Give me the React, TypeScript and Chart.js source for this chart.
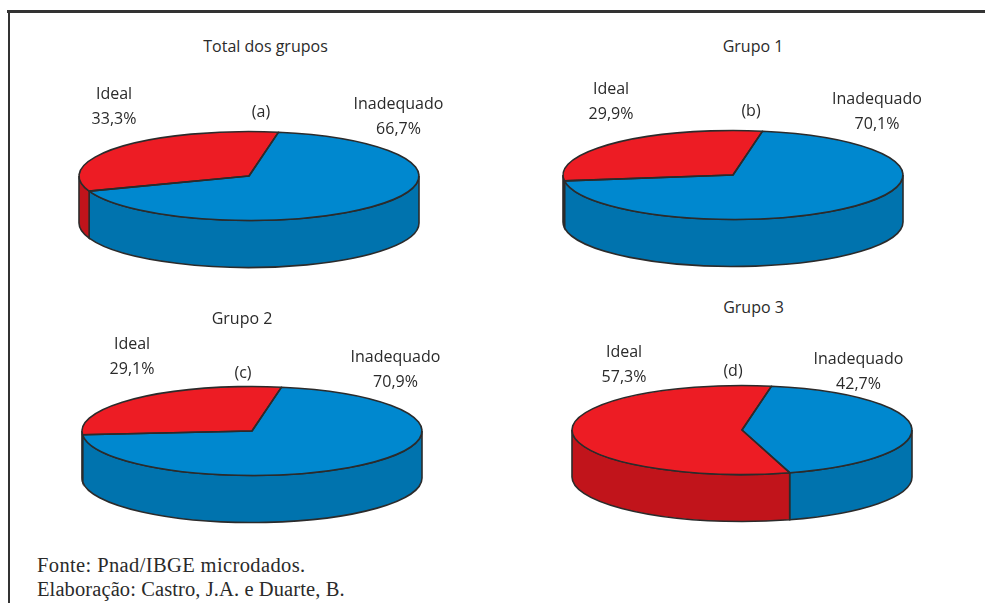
import React, { useEffect, useRef } from "react";
import { Chart, registerables } from "chart.js";

Chart.register(...registerables);

const categories = ["Inadequado", "Ideal"];
const valuesTotal = [66.7, 33.3];
const valuesGrupo1 = [70.1, 29.9];
const valuesGrupo2 = [70.9, 29.1];
const valuesGrupo3 = [42.7, 57.3];
const sourceLines = ["Fonte: Pnad/IBGE microdados.", "Elaboração: Castro, J.A. e Duarte, B."];

const TOP = ["#0088CF", "#ED1C24"];
const WALL = ["#0073AE", "#C1141B"];
const LINE = "#2B2B2B";
const SANS = '"Open Sans", sans-serif';
const SERIF = '"Liberation Serif", serif';
const RX = 170;
const RY = 44.5;
const DEPTH = 47;
const W = 400;
const H = 210;

const pie3d = {
  id: "pie3d",
  beforeDatasetsDraw(chart: any) {
    const ctx = chart.ctx;
    const meta = chart.getDatasetMeta(0);
    meta.data.forEach((arc: any, i: number) => {
      const { x, y, startAngle, endAngle } = arc;
      for (let k = -1; k <= 1; k++) {
        const lo = Math.max(startAngle, 2 * Math.PI * k);
        const hi = Math.min(endAngle, Math.PI + 2 * Math.PI * k);
        if (hi <= lo) continue;
        ctx.save();
        ctx.beginPath();
        ctx.ellipse(x, y, RX, RY, 0, lo, hi);
        ctx.ellipse(x, y + DEPTH, RX, RY, 0, hi, lo, true);
        ctx.closePath();
        ctx.fillStyle = WALL[i];
        ctx.fill();
        ctx.lineWidth = 1.6;
        ctx.strokeStyle = LINE;
        ctx.stroke();
        ctx.restore();
      }
    });
  },
  beforeDatasetDraw(chart: any) {
    const ctx = chart.ctx;
    const { x, y } = chart.getDatasetMeta(0).data[0];
    ctx.save();
    ctx.translate(x, y);
    ctx.scale(1, RY / RX);
    ctx.translate(-x, -y);
  },
  afterDatasetDraw(chart: any) {
    const ctx = chart.ctx;
    ctx.restore();
    chart.getDatasetMeta(0).data.forEach((arc: any) => {
      const { x, y, startAngle, endAngle } = arc;
      ctx.save();
      ctx.beginPath();
      ctx.moveTo(x, y);
      ctx.ellipse(x, y, RX, RY, 0, startAngle, endAngle);
      ctx.closePath();
      ctx.lineWidth = 1.6;
      ctx.lineJoin = "round";
      ctx.strokeStyle = LINE;
      ctx.stroke();
      ctx.restore();
    });
  },
};

function Pie({ values, cx, cy }: { values: number[]; cx: number; cy: number }) {
  const ref = useRef<HTMLCanvasElement>(null);
  useEffect(() => {
    const chart = new Chart(ref.current as HTMLCanvasElement, {
      type: "pie",
      data: {
        labels: categories,
        datasets: [{ data: values, backgroundColor: TOP, borderWidth: 0, clip: false } as any],
      },
      options: {
        animation: false,
        responsive: false,
        rotation: 10,
        radius: RX,
        layout: { padding: 0 },
        plugins: { legend: { display: false }, tooltip: { enabled: false } },
      } as any,
      plugins: [pie3d],
    });
    return () => chart.destroy();
  }, []);
  return (
    <canvas
      ref={ref}
      width={W}
      height={H}
      style={{ position: "absolute", left: cx - W / 2, top: cy - H / 2, width: W, height: H }}
    />
  );
}

function T({ x, y, children, font = SANS, size = 16, align = "center", spacing = 0 }: any) {
  return (
    <div
      style={{
        position: "absolute",
        left: x,
        top: y,
        transform: align === "center" ? "translateX(-50%)" : undefined,
        whiteSpace: "nowrap",
        fontFamily: font,
        fontSize: size,
        letterSpacing: spacing,
        lineHeight: "20px",
        color: "#2A2A2A",
      }}
    >
      {children}
    </div>
  );
}

const pct = (v: number) => v.toFixed(1).replace(".", ",") + "%";

const panels = [
  { values: valuesTotal, cx: 248.5, cy: 175.5, title: "Total dos grupos", tx: 265.5, ty: 36, tag: "(a)", gx: 261, gy: 101, ix: 114, iy: 83, nx: 398.5, ny: 93 },
  { values: valuesGrupo1, cx: 733, cy: 174.5, title: "Grupo 1", tx: 753, ty: 36, tag: "(b)", gx: 751, gy: 100, ix: 611, iy: 77.5, nx: 877, ny: 87.5 },
  { values: valuesGrupo2, cx: 252, cy: 431, title: "Grupo 2", tx: 242, ty: 308, tag: "(c)", gx: 243, gy: 362, ix: 132, iy: 333, nx: 395.5, ny: 345.5 },
  { values: valuesGrupo3, cx: 742, cy: 429.5, title: "Grupo 3", tx: 753.5, ty: 297, tag: "(d)", gx: 733, gy: 360, ix: 624, iy: 340.5, nx: 858.5, ny: 348 },
];

export default function App() {
  return (
    <div style={{ position: "absolute", left: 0, top: 0, width: 985, height: 603, overflow: "hidden", background: "#fff" }}>
      <div style={{ position: "absolute", left: 7, top: 10, width: 985, height: 2.5, background: "#333" }} />
      <div style={{ position: "absolute", left: 7.5, top: 10, width: 2.5, height: 600, background: "#333" }} />
      {panels.map((p) => (
        <React.Fragment key={p.tag}>
          <Pie values={p.values} cx={p.cx} cy={p.cy} />
          <T x={p.tx} y={p.ty}>{p.title}</T>
          <T x={p.gx} y={p.gy}>{p.tag}</T>
          <T x={p.ix} y={p.iy}>{categories[1]}</T>
          <T x={p.ix} y={p.iy + 25}>{pct(p.values[1])}</T>
          <T x={p.nx} y={p.ny}>{categories[0]}</T>
          <T x={p.nx} y={p.ny + 25}>{pct(p.values[0])}</T>
        </React.Fragment>
      ))}
      <T x={37} y={555} font={SERIF} size={20.5} spacing={0.38} align="left">{sourceLines[0]}</T>
      <T x={37} y={579} font={SERIF} size={20.5} spacing={0.1} align="left">{sourceLines[1]}</T>
    </div>
  );
}
